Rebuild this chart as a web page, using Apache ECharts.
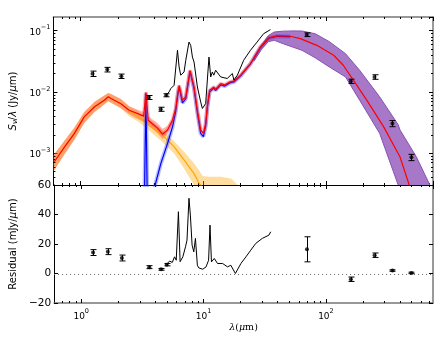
<!DOCTYPE html>
<html>
<head>
  <meta charset="UTF-8">
  <title>SED fit</title>
  <script src="https://cdn.jsdelivr.net/npm/echarts@6/dist/echarts.min.js"></script>
  <style>
    html, body { margin: 0; padding: 0; background: #fff; }
    #chart { width: 447px; height: 337px; }
  </style>
</head>
<body>
  <div id="chart"></div>
  <script>
    // axis ranges
    const X_MIN = 0.6, X_MAX = 750;
    const Y_MIN = 3e-4, Y_MAX = 0.167;
    const R_MIN = -20, R_MAX = 60;

    // total model (red)
    const modelX = [0.61, 0.74, 0.89, 1.07, 1.3, 1.56, 1.68, 1.77, 2.13, 2.49, 2.92, 3.27, 3.41, 3.56, 4.24, 4.66, 5.12, 5.62, 5.98, 6.17, 6.36, 6.77, 7.21, 7.81, 8.17, 8.42, 8.97, 9.54, 10.04, 10.48, 10.82, 11.29, 11.66, 12.24, 12.6, 13.9, 15.0, 16.5, 17.8, 20.2, 24.3, 29.3, 34.2, 40.1, 51.4, 62, 84.6, 116, 139, 168, 216, 297, 403, 480, 560];
    const modelY = [7.2e-4, 1.26e-3, 2.09e-3, 3.9e-3, 5.7e-3, 7.3e-3, 8.3e-3, 7.8e-3, 6.4e-3, 5.0e-3, 4.4e-3, 4.0e-3, 9.8e-3, 3.44e-3, 2.55e-3, 2.03e-3, 2.37e-3, 3.44e-3, 5.4e-3, 8.8e-3, 1.28e-2, 7.3e-3, 8.3e-3, 2.25e-2, 1.55e-2, 1.2e-2, 5.0e-3, 2.37e-3, 2.09e-3, 3.04e-3, 6.0e-3, 1.06e-2, 1.0e-2, 1.2e-2, 1.1e-2, 1.36e-2, 1.3e-2, 1.45e-2, 1.5e-2, 1.87e-2, 2.9e-2, 5.4e-2, 7.6e-2, 8.2e-2, 8.1e-2, 7.4e-2, 5.75e-2, 3.96e-2, 2.72e-2, 1.55e-2, 7.3e-3, 2.67e-3, 8.7e-4, 3.0e-4, 1.2e-4];

    // total model uncertainty (short wavelengths)
    const modelBandX = [0.6, 0.74, 0.89, 1.07, 1.3, 1.56, 1.68, 1.77, 2.13, 2.49, 2.92, 3.27, 3.56, 4.24, 4.66, 5.12, 5.62, 6.0];
    const modelBandLo = [5.0e-4, 9.6e-4, 1.65e-3, 3.1e-3, 4.7e-3, 6.2e-3, 7.1e-3, 6.6e-3, 5.4e-3, 4.3e-3, 3.6e-3, 3.2e-3, 2.9e-3, 2.1e-3, 1.7e-3, 2.0e-3, 3.0e-3, 4.9e-3];
    const modelBandHi = [9.2e-4, 1.6e-3, 2.6e-3, 4.7e-3, 6.9e-3, 8.7e-3, 9.6e-3, 9.2e-3, 7.6e-3, 5.8e-3, 5.1e-3, 4.7e-3, 4.0e-3, 3.1e-3, 2.5e-3, 2.8e-3, 3.8e-3, 5.8e-3];

    // stellar photosphere (orange) and its uncertainty
    const starX = [0.61, 0.74, 0.89, 1.07, 1.3, 1.56, 1.68, 1.77, 2.13, 2.49, 2.92, 3.27, 3.74, 4.51, 5.8, 6.98, 8.42, 9.27, 10.5, 12];
    const starY = [7.2e-4, 1.26e-3, 2.09e-3, 3.9e-3, 5.7e-3, 7.3e-3, 8.3e-3, 7.8e-3, 6.4e-3, 4.8e-3, 4.0e-3, 3.4e-3, 2.65e-3, 2.09e-3, 1.26e-3, 7.7e-4, 4.6e-4, 3.2e-4, 2.4e-4, 1.8e-4];
    const starBandX = [0.6, 0.74, 0.89, 1.07, 1.3, 1.56, 1.68, 1.77, 2.13, 2.49, 2.92, 3.27, 3.74, 4.51, 5.8, 6.98, 8.42, 9.27, 9.9, 11, 14, 17, 19.5];
    const starBandLo = [5.0e-4, 9.5e-4, 1.65e-3, 3.1e-3, 4.7e-3, 6.2e-3, 7.0e-3, 6.6e-3, 5.4e-3, 4.0e-3, 3.3e-3, 2.8e-3, 2.2e-3, 1.6e-3, 9.8e-4, 5.6e-4, 3.0e-4, 2.0e-4, 1.5e-4, 1.0e-4, 8e-5, 6e-5, 5e-5];
    const starBandHi = [9.2e-4, 1.6e-3, 2.6e-3, 4.7e-3, 6.9e-3, 8.7e-3, 9.6e-3, 9.2e-3, 7.6e-3, 5.8e-3, 4.9e-3, 4.2e-3, 3.3e-3, 2.5e-3, 1.55e-3, 1.05e-3, 6.8e-4, 5.2e-4, 4.2e-4, 4.1e-4, 4.1e-4, 3.8e-4, 2.9e-4];

    // dust component (blue)
    const dustX = [3.25, 3.41, 3.56, 3.98, 4.51, 5.12, 5.62, 5.98, 6.17, 6.36, 6.77, 7.21, 7.81, 8.17, 8.42, 8.97, 9.54, 10.04, 10.48, 10.82, 11.29, 11.66, 12.24, 12.6, 13.9, 15.0, 16.5, 17.8, 20.2, 24.3, 29.3, 34.2, 40.1, 51.4];
    const dustY = [1e-5, 9.4e-3, 1e-5, 2.6e-4, 6.7e-4, 1.44e-3, 2.67e-3, 4.9e-3, 8.2e-3, 1.2e-2, 6.6e-3, 7.7e-3, 2.15e-2, 1.47e-2, 1.13e-2, 4.5e-3, 2.1e-3, 1.85e-3, 2.75e-3, 5.6e-3, 1.0e-2, 9.4e-3, 1.15e-2, 1.05e-2, 1.3e-2, 1.24e-2, 1.4e-2, 1.45e-2, 1.82e-2, 2.85e-2, 5.3e-2, 7.5e-2, 8.1e-2, 8.0e-2];

    // cold component uncertainty (purple)
    const coldX = [26, 30, 34, 38, 45, 55, 64, 82, 107, 145, 189, 275, 390, 404, 548, 707, 760];
    const coldLo = [3.2e-2, 5.0e-2, 6.6e-2, 6.95e-2, 6.1e-2, 5.3e-2, 4.77e-2, 3.6e-2, 2.55e-2, 1.75e-2, 7.3e-3, 2.1e-3, 3.0e-4, 2.4e-4, 6e-5, 2e-5, 1.5e-5];
    const coldHi = [3.7e-2, 5.8e-2, 8.3e-2, 9.5e-2, 9.8e-2, 9.9e-2, 9.85e-2, 8.9e-2, 6.6e-2, 4.2e-2, 2.25e-2, 8.3e-3, 2.9e-3, 2.37e-3, 8.7e-4, 3.0e-4, 2.2e-4];

    // IRS spectrum
    const irsX = [4.96, 5.27, 5.44, 5.62, 5.79, 5.98, 6.17, 6.36, 6.56, 6.77, 6.98, 7.21, 7.66, 7.91, 8.17, 8.42, 8.97, 9.54, 9.85, 10.48, 11.15, 11.51, 11.88, 12.2, 12.64, 13.9, 15.7, 17.3, 17.8, 19.0, 21.4, 24.3, 27.5, 31.1, 35.4];
    const irsY = [8.8e-3, 9.96e-3, 1.13e-2, 1.06e-2, 1.28e-2, 1.36e-2, 4.77e-2, 2.55e-2, 1.87e-2, 1.99e-2, 2.11e-2, 3.28e-2, 6.5e-2, 5.75e-2, 3.7e-2, 3.07e-2, 1.2e-2, 6.84e-3, 5.34e-3, 6.44e-3, 3.7e-2, 1.75e-2, 2.11e-2, 1.87e-2, 2.25e-2, 1.75e-2, 1.65e-2, 1.99e-2, 1.55e-2, 1.87e-2, 3.28e-2, 4.77e-2, 6.5e-2, 8.9e-2, 0.104];

    // photometry
    const photX = [1.25, 1.65, 2.15, 3.6, 4.5, 5.0, 70, 160, 250, 350, 500];
    const photY = [0.0198, 0.0231, 0.018, 0.0081, 0.0052, 0.0088, 0.086, 0.0149, 0.0175, 0.00304, 8.5e-4];
    const photErr = [0.002, 0.002, 0.0015, 0.0006, 0.0004, 0.0005, 0.006, 0.0012, 0.0015, 0.00035, 0.0001];

    // residuals (mJy/um)
    const resX = photX;
    const resY = [14.2, 14.8, 10.5, 4.3, 2.8, 6.0, 16.4, -3.9, 12.4, 2.0, 0.4];
    const resErr = [2, 2, 2, 1, 0.6, 0.8, 8.5, 1.5, 1.5, 0.5, 0.5];
    const resIrsX = [4.96, 5.27, 5.55, 5.79, 5.98, 6.23, 6.43, 6.77, 7.12, 7.32, 7.6, 7.8, 8.06, 8.32, 8.58, 8.9, 9.14, 9.85, 10.48, 10.99, 11.29, 11.6, 12.24, 13.0, 14.3, 15.7, 16.7, 18.2, 20.2, 22.2, 24.3, 26.7, 30.2, 34.2, 35.4];
    const resIrsY = [6.1, 8.4, 7.5, 11.3, 9.0, 41.9, 8.0, 11.3, 18.1, 22.6, 51, 39.6, 19.2, 14.7, 23.8, 5.6, 3.8, 2.9, 4.5, 9.0, 32.8, 7.9, 10.2, 6.8, 6.8, 4.5, 5.6, 0, 6.8, 11.3, 15.8, 20.4, 23.8, 26, 28.3];
    const zeroLevel = [0];

    // tick positions
    const xMinorTicks = [0.7, 0.8, 0.9, 2, 3, 4, 5, 6, 7, 8, 9, 20, 30, 40, 50, 60, 70, 80, 90, 200, 300, 400, 500, 600, 700];
    const yMinorTicks = [4e-4, 5e-4, 6e-4, 7e-4, 8e-4, 9e-4, 2e-3, 3e-3, 4e-3, 5e-3, 6e-3, 7e-3, 8e-3, 9e-3, 0.02, 0.03, 0.04, 0.05, 0.06, 0.07, 0.08, 0.09];

    const FONT = 'DejaVu Sans';
    const pairs = (xs, ys) => xs.map((x, i) => [x, ys[i]]);

    function logLabel(v) {
      const e = Math.log10(v);
      const r = Math.round(e);
      if (Math.abs(e - r) > 1e-6) return '';
      return '{b|10}{s|' + (r < 0 ? '\u2212' + (-r) : r) + '}';
    }
    const logRich = {
      b: { fontSize: 9, fontFamily: FONT, color: '#000', lineHeight: 13, verticalAlign: 'bottom' },
      s: { fontSize: 6.5, fontFamily: FONT, color: '#000', lineHeight: 13, verticalAlign: 'top' }
    };

    function bandRender(xs, lo, hi, fill, stroke) {
      return function (params, api) {
        if (params.dataIndex !== 0) return null;
        const pts = [];
        for (let i = 0; i < xs.length; i++) pts.push(api.coord([xs[i], hi[i]]));
        for (let i = xs.length - 1; i >= 0; i--) pts.push(api.coord([xs[i], lo[i]]));
        return {
          type: 'polygon',
          shape: { points: pts },
          style: { fill: fill, stroke: stroke || null, lineWidth: stroke ? 1 : 0 }
        };
      };
    }

    function errRender(params, api) {
      const x = api.value(0), y = api.value(1), e = api.value(2);
      const p0 = api.coord([x, y - e]);
      const p1 = api.coord([x, y + e]);
      const cx = Math.round(p0[0]) + 0.5;
      const st = { stroke: '#000', lineWidth: 1 };
      return {
        type: 'group',
        children: [
          { type: 'line', shape: { x1: cx, y1: p0[1], x2: cx, y2: p1[1] }, style: st },
          { type: 'line', shape: { x1: cx - 3, y1: p0[1], x2: cx + 3, y2: p0[1] }, style: st },
          { type: 'line', shape: { x1: cx - 3, y1: p1[1], x2: cx + 3, y2: p1[1] }, style: st }
        ]
      };
    }

    function xMinorRender(yRef) {
      return function (params, api) {
        const cs = params.coordSys;
        const x = Math.round(api.coord([api.value(0), yRef])[0]) + 0.5;
        const st = { stroke: '#000', lineWidth: 1 };
        return {
          type: 'group',
          children: [
            { type: 'line', shape: { x1: x, y1: cs.y, x2: x, y2: cs.y + 2 }, style: st },
            { type: 'line', shape: { x1: x, y1: cs.y + cs.height, x2: x, y2: cs.y + cs.height - 2 }, style: st }
          ]
        };
      };
    }

    const tickIn = { show: true, inside: true, length: 4, lineStyle: { color: '#000' } };
    const frameDark = { show: true, onZero: false, lineStyle: { color: '#000', width: 1 } };
    const frameGrey = { show: true, onZero: false, lineStyle: { color: '#777', width: 1.5 } };

    function xAx(grid, pos, line, labels) {
      return {
        type: 'log', logBase: 10, gridIndex: grid, position: pos, min: X_MIN, max: X_MAX,
        axisLine: line, axisTick: tickIn, splitLine: { show: false },
        axisLabel: labels ? {
          formatter: logLabel, rich: logRich, margin: 5, showMinLabel: false, showMaxLabel: false
        } : { show: false }
      };
    }

    const chart = echarts.init(document.getElementById('chart'), null, { renderer: 'canvas' });
    chart.setOption({
      animation: false,
      backgroundColor: '#fff',
      grid: [
        { left: 53, top: 17, width: 380, height: 168 },
        { left: 53, top: 185, width: 380, height: 118 }
      ],
      xAxis: [
        xAx(0, 'bottom', frameDark, false),
        xAx(0, 'top', frameGrey, false),
        Object.assign(xAx(1, 'bottom', frameGrey, true), {
          name: '{i|\u03bb}{n|(}{i|\u03bc}{n|m)}',
          nameLocation: 'middle', nameGap: 20,
          nameTextStyle: {
            rich: {
              i: { fontSize: 9.5, fontFamily: 'DejaVu Serif', fontStyle: 'italic', color: '#000' },
              n: { fontSize: 9.5, fontFamily: 'DejaVu Serif', color: '#000' }
            }
          }
        }),
        xAx(1, 'top', frameDark, false)
      ],
      yAxis: [
        {
          type: 'log', logBase: 10, gridIndex: 0, position: 'left', min: Y_MIN, max: Y_MAX,
          axisLine: frameDark, axisTick: tickIn, splitLine: { show: false },
          axisLabel: { formatter: logLabel, rich: logRich, margin: 3, showMinLabel: false, showMaxLabel: false },
          name: '{i|S}{sub|\u03bd}{n|/}{i|\u03bb}{n| (Jy/}{i|\u03bc}{n|m)}',
          nameLocation: 'middle', nameRotate: 90, nameGap: 27,
          nameTextStyle: {
            rich: {
              i: { fontSize: 10, fontFamily: FONT, fontStyle: 'italic', color: '#000' },
              sub: { fontSize: 7, fontFamily: FONT, fontStyle: 'italic', color: '#000', verticalAlign: 'bottom', padding: [4, 0, 0, 0] },
              n: { fontSize: 10, fontFamily: FONT, color: '#000' }
            }
          }
        },
        {
          type: 'log', logBase: 10, gridIndex: 0, position: 'right', min: Y_MIN, max: Y_MAX,
          axisLine: frameGrey, axisTick: tickIn, splitLine: { show: false }, axisLabel: { show: false }
        },
        {
          type: 'value', gridIndex: 1, position: 'left', min: R_MIN, max: R_MAX, interval: 20,
          axisLine: frameDark, axisTick: tickIn, splitLine: { show: false },
          axisLabel: {
            margin: 3, fontSize: 10.5, fontFamily: FONT, color: '#000',
            formatter: v => (v < 0 ? '\u2212' + (-v) : '' + v)
          },
          name: '{n|Residual (mJy/}{i|\u03bc}{n|m)}',
          nameLocation: 'middle', nameRotate: 90, nameGap: 27,
          nameTextStyle: {
            rich: {
              i: { fontSize: 10, fontFamily: FONT, fontStyle: 'italic', color: '#000' },
              n: { fontSize: 10, fontFamily: FONT, color: '#000' }
            }
          }
        },
        {
          type: 'value', gridIndex: 1, position: 'right', min: R_MIN, max: R_MAX, interval: 20,
          axisLine: frameGrey, axisTick: tickIn, splitLine: { show: false }, axisLabel: { show: false }
        }
      ],
      series: [
        {
          type: 'custom', name: 'star band', xAxisIndex: 0, yAxisIndex: 0, clip: true, silent: true, z: 1,
          data: pairs(starBandX, starBandHi),
          renderItem: bandRender(starBandX, starBandLo, starBandHi, 'rgba(255,165,0,0.38)')
        },
        {
          type: 'custom', name: 'model band', xAxisIndex: 0, yAxisIndex: 0, clip: true, silent: true, z: 2,
          data: pairs(modelBandX, modelBandHi),
          renderItem: bandRender(modelBandX, modelBandLo, modelBandHi, 'rgba(255,30,0,0.32)')
        },
        {
          type: 'custom', name: 'cold band', xAxisIndex: 0, yAxisIndex: 0, clip: true, silent: true, z: 3,
          data: pairs(coldX, coldHi),
          renderItem: bandRender(coldX, coldLo, coldHi, '#a878c8', '#8652b4')
        },
        {
          type: 'line', name: 'star', xAxisIndex: 0, yAxisIndex: 0, z: 4,
          data: pairs(starX, starY), showSymbol: false, symbol: 'none',
          lineStyle: { color: '#ffa500', width: 1.2 }
        },
        {
          type: 'line', name: 'dust halo', xAxisIndex: 0, yAxisIndex: 0, z: 5,
          data: pairs(dustX, dustY), symbol: 'none',
          lineStyle: { color: 'rgba(40,60,255,0.35)', width: 4 }
        },
        {
          type: 'line', name: 'dust', xAxisIndex: 0, yAxisIndex: 0, z: 6,
          data: pairs(dustX, dustY), symbol: 'none',
          lineStyle: { color: '#0000ff', width: 1.2 }
        },
        {
          type: 'line', name: 'model halo', xAxisIndex: 0, yAxisIndex: 0, z: 7,
          data: pairs(modelX.slice(11, 44), modelY.slice(11, 44)), symbol: 'none',
          lineStyle: { color: 'rgba(255,60,60,0.3)', width: 4 }
        },
        {
          type: 'line', name: 'model', xAxisIndex: 0, yAxisIndex: 0, z: 8,
          data: pairs(modelX, modelY), symbol: 'none',
          lineStyle: { color: '#ff0000', width: 1.2 }
        },
        {
          type: 'line', name: 'IRS', xAxisIndex: 0, yAxisIndex: 0, z: 9,
          data: pairs(irsX, irsY), symbol: 'none',
          lineStyle: { color: '#000', width: 1 }
        },
        {
          type: 'custom', name: 'phot err', xAxisIndex: 0, yAxisIndex: 0, z: 10,
          data: photX.map((x, i) => [x, photY[i], photErr[i]]),
          renderItem: errRender
        },
        {
          type: 'scatter', name: 'phot', xAxisIndex: 0, yAxisIndex: 0, z: 11,
          data: pairs(photX, photY), symbol: 'circle', symbolSize: 4,
          itemStyle: { color: '#000' }
        },
        {
          type: 'custom', name: 'zero', xAxisIndex: 2, yAxisIndex: 2, silent: true, z: 2,
          data: zeroLevel.map(v => [1, v]),
          renderItem: function (params, api) {
            const cs = params.coordSys;
            const y = Math.round(api.coord([1, api.value(1)])[1]) + 0.5;
            return {
              type: 'line',
              shape: { x1: cs.x, y1: y, x2: cs.x + cs.width, y2: y },
              style: { stroke: '#666', lineWidth: 1, lineDash: [1, 3] }
            };
          }
        },
        {
          type: 'line', name: 'IRS residual', xAxisIndex: 2, yAxisIndex: 2, z: 9,
          data: pairs(resIrsX, resIrsY), symbol: 'none',
          lineStyle: { color: '#000', width: 1 }
        },
        {
          type: 'custom', name: 'res err', xAxisIndex: 2, yAxisIndex: 2, z: 10,
          data: resX.map((x, i) => [x, resY[i], resErr[i]]),
          renderItem: errRender
        },
        {
          type: 'scatter', name: 'residual', xAxisIndex: 2, yAxisIndex: 2, z: 11,
          data: pairs(resX, resY), symbol: 'circle', symbolSize: 4,
          itemStyle: { color: '#000' }
        },
        {
          type: 'custom', name: 'x minor top', xAxisIndex: 0, yAxisIndex: 0, silent: true,
          data: xMinorTicks.map(v => [v, Y_MAX]),
          renderItem: xMinorRender(Y_MAX)
        },
        {
          type: 'custom', name: 'x minor bottom', xAxisIndex: 2, yAxisIndex: 2, silent: true,
          data: xMinorTicks.map(v => [v, 0]),
          renderItem: xMinorRender(0)
        },
        {
          type: 'custom', name: 'y minor', xAxisIndex: 0, yAxisIndex: 0, silent: true,
          data: yMinorTicks.map(v => [1, v]),
          encode: { x: 0, y: 1 },
          renderItem: function (params, api) {
            const cs = params.coordSys;
            const y = Math.round(api.coord([1, api.value(1)])[1]) + 0.5;
            const st = { stroke: '#000', lineWidth: 1 };
            return {
              type: 'group',
              children: [
                { type: 'line', shape: { x1: cs.x, y1: y, x2: cs.x + 2, y2: y }, style: st },
                { type: 'line', shape: { x1: cs.x + cs.width, y1: y, x2: cs.x + cs.width - 2, y2: y }, style: st }
              ]
            };
          }
        }
      ]
    });
  </script>
</body>
</html>
